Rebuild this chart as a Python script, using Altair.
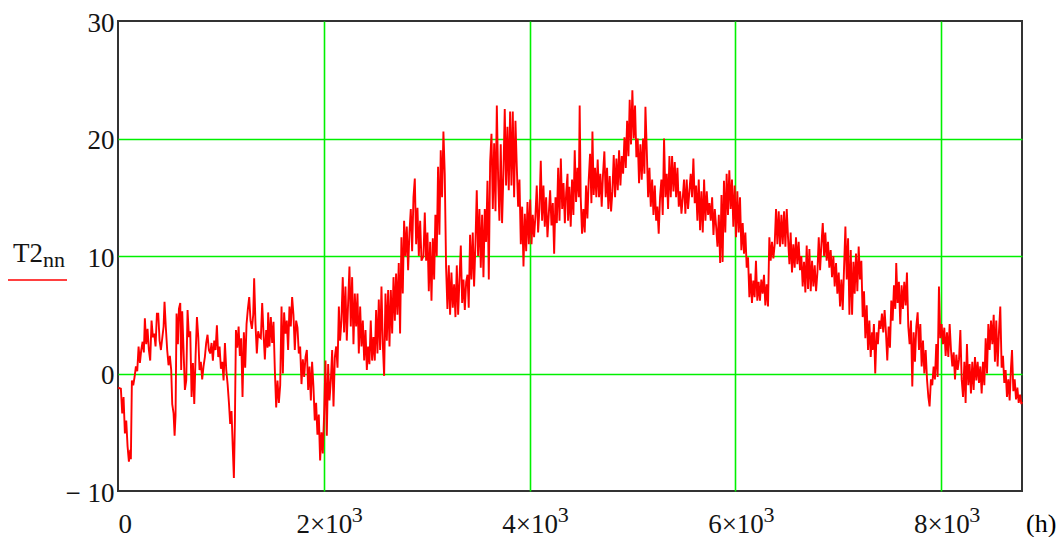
import altair as alt
import pandas as pd

# Hourly T2 values (nn = hour index), split by period
SEG_JAN_MAR = [
    (0, -1.2), (28, -1.3), (41, -3.4), (54, -2.0), (67, -5.1), (80, -4.0), (93, -6.2), (106, -7.5),
    (119, -6.5), (125, -7.3), (135, -0.6), (148, -1.0), (161, -0.3), (174, 0.6), (187, 0.2), (200, 2.3),
    (213, 0.9), (226, 2.0), (239, 2.7), (251, 1.8), (261, 4.7), (274, 2.5), (287, 3.8), (300, 2.0),
    (313, 1.1), (326, 4.5), (339, 3.1), (352, 3.4), (365, 2.3), (378, 5.1), (391, 5.1), (404, 2.8),
    (417, 2.0), (430, 3.0), (443, 4.0), (452, 6.1), (465, 3.9), (478, 2.0), (491, 0.7), (504, 1.5),
    (517, 0.3), (527, -2.6), (540, -3.4), (550, -5.3), (559, -3.6), (569, 5.1), (582, 2.5), (592, 5.5),
    (605, 6.0), (614, 0.3), (624, 5.3), (637, 2.0), (650, -1.4), (663, -0.6), (676, 5.4), (689, 3.1),
    (702, 3.6), (715, -2.0), (728, 0.9), (741, -2.6), (754, 1.5), (767, 4.8), (780, 3.1), (792, 0.3),
    (805, 1.0), (818, -0.5), (831, 0.6), (844, 1.4), (857, 2.6), (870, 3.3), (883, 2.0), (896, 1.7),
    (909, 2.6), (922, 1.1), (935, 2.8), (948, 2.0), (961, 4.1), (974, 1.4), (987, 2.3), (1000, 0.4),
    (1013, 1.0), (1026, -0.6), (1039, 2.6), (1052, 0.3), (1065, -0.9), (1078, -2.5), (1090, -4.3),
    (1103, -3.2), (1116, -6.5), (1126, -8.9), (1136, -4.0), (1146, 3.7), (1159, 2.2), (1172, 4.0),
    (1184, 1.5), (1197, 3.0), (1210, -2.0), (1223, 3.5), (1236, 0.5), (1249, 4.2), (1262, 5.5),
    (1275, 6.5), (1288, 4.5), (1301, 3.8), (1314, 5.0), (1323, 8.1), (1336, 4.2), (1349, 1.7),
    (1362, 3.6), (1375, 3.1), (1388, 3.0), (1401, 6.0), (1414, 3.4), (1427, 1.2), (1440, 3.7),
    (1453, 2.2),
]

SEG_MAR_MAY = [
    (1459, 5.2), (1472, 2.3), (1485, 4.8), (1498, 2.6), (1511, 4.4), (1524, 0.3), (1537, -2.9),
    (1550, -0.6), (1563, -2.5), (1576, -1.0), (1589, 5.7), (1602, 0.0), (1614, 5.2), (1627, 3.4),
    (1640, 4.5), (1653, 2.0), (1666, 5.7), (1679, 4.0), (1692, 6.5), (1705, 5.0), (1718, 2.0),
    (1731, 4.5), (1744, 3.9), (1757, 1.7), (1770, 2.3), (1783, -0.9), (1796, 1.2), (1809, -0.3),
    (1822, 1.4), (1835, 2.0), (1848, -1.4), (1861, 0.6), (1874, -2.3), (1886, 1.0), (1899, -1.1),
    (1912, -4.0), (1925, -2.5), (1938, -5.2), (1951, -3.5), (1964, -7.4), (1977, -5.0), (1990, -6.8),
    (2003, -3.4), (2016, 1.1), (2029, -5.3), (2042, 0.8), (2055, -2.3), (2068, -0.6), (2081, 2.0),
    (2094, -2.8), (2107, 1.4), (2120, 2.3), (2133, 0.5), (2146, 5.7), (2158, 2.8), (2171, 4.5),
    (2184, 8.2), (2197, 3.5), (2210, 7.4), (2223, 2.8), (2236, 6.0), (2249, 9.1), (2262, 4.0),
    (2275, 8.2), (2288, 2.5), (2301, 6.8), (2314, 4.0), (2327, 6.8), (2340, 1.7), (2353, 5.7),
    (2366, 2.3), (2379, 4.5), (2392, 1.1), (2405, 3.7), (2418, 0.3), (2430, 2.3), (2443, 0.8),
    (2456, 4.5), (2469, 1.1), (2482, 3.1), (2495, 1.1), (2508, 5.4), (2521, 1.7), (2534, 6.3),
    (2547, 2.0), (2560, 7.4), (2573, 2.5), (2586, -0.2), (2599, 6.8), (2612, 2.8), (2625, 7.1),
    (2638, 2.3), (2651, 7.1), (2664, 3.4), (2677, 8.2), (2690, 4.5), (2702, 8.5), (2715, 5.0),
    (2728, 9.4), (2741, 3.4), (2754, 11.6), (2767, 6.8), (2780, 13.0), (2793, 10.0), (2806, 12.5),
    (2819, 8.8), (2832, 12.0), (2845, 14.0), (2858, 10.4), (2871, 15.0), (2884, 16.6), (2897, 11.0),
    (2910, 14.1), (2923, 10.0), (2936, 13.0), (2949, 9.6),
]

SEG_MAY_JUL = [
    (2968, 10.0), (2981, 13.7), (2994, 9.6), (3007, 12.0), (3020, 7.0), (3033, 11.2), (3046, 6.2),
    (3059, 11.5), (3072, 8.0), (3084, 13.5), (3097, 10.0), (3110, 17.6), (3123, 11.8), (3136, 19.0),
    (3149, 15.0), (3162, 20.6), (3175, 17.0), (3188, 9.0), (3201, 5.5), (3214, 9.2), (3227, 5.0),
    (3240, 8.6), (3253, 5.6), (3266, 7.6), (3279, 4.8), (3292, 9.2), (3305, 5.0), (3318, 8.0),
    (3331, 10.9), (3344, 6.0), (3357, 8.0), (3370, 5.4), (3383, 7.8), (3396, 8.4), (3408, 5.6),
    (3421, 11.8), (3434, 8.0), (3447, 12.0), (3460, 7.4), (3473, 11.0), (3486, 15.6), (3499, 10.0),
    (3512, 14.0), (3525, 9.0), (3538, 13.5), (3551, 8.2), (3564, 14.0), (3577, 11.2), (3590, 16.4),
    (3603, 8.0), (3616, 18.0), (3629, 20.4), (3642, 14.0), (3655, 19.6), (3668, 13.8), (3681, 22.8),
    (3694, 16.5), (3706, 13.0), (3719, 19.5), (3732, 12.8), (3745, 17.0), (3758, 22.5), (3771, 16.0),
    (3784, 21.0), (3797, 15.6), (3810, 22.3), (3823, 16.0), (3836, 22.3), (3849, 15.0), (3862, 21.5),
    (3875, 17.6), (3888, 14.2), (3901, 16.5), (3914, 11.0), (3927, 14.2), (3940, 9.1), (3953, 13.6),
    (3966, 10.4), (3979, 14.6), (3992, 11.0), (4005, 14.8), (4018, 11.0), (4030, 13.5), (4043, 11.6),
    (4056, 13.4), (4069, 16.0), (4082, 12.0), (4095, 14.0), (4108, 18.1), (4121, 13.0), (4134, 16.0),
    (4147, 12.5), (4160, 15.0), (4173, 11.6), (4186, 13.6), (4199, 15.6), (4212, 12.6), (4225, 14.5),
    (4238, 10.2), (4251, 15.0), (4264, 12.8), (4277, 17.5), (4290, 13.0), (4303, 18.3), (4316, 14.0),
    (4329, 16.2), (4342, 12.8), (4355, 15.4), (4368, 17.0),
]

SEG_JUL_SEP = [
    (4373, 13.0), (4386, 15.9), (4399, 12.5), (4412, 16.5), (4425, 13.5), (4438, 19.0), (4451, 14.6),
    (4464, 17.5), (4477, 15.0), (4486, 22.8), (4496, 15.0), (4509, 11.9), (4522, 14.0), (4535, 12.0),
    (4548, 16.0), (4561, 13.2), (4574, 16.5), (4587, 18.7), (4600, 14.5), (4610, 20.6), (4622, 15.2),
    (4635, 17.5), (4648, 15.0), (4661, 18.2), (4674, 15.0), (4687, 17.0), (4700, 14.2), (4713, 17.0),
    (4726, 18.9), (4739, 15.0), (4752, 17.5), (4765, 14.0), (4778, 16.8), (4791, 13.8), (4804, 15.5),
    (4817, 18.6), (4830, 15.0), (4843, 18.3), (4856, 15.6), (4869, 19.0), (4882, 16.0), (4895, 18.5),
    (4908, 17.0), (4921, 20.1), (4934, 17.5), (4947, 21.5), (4960, 18.5), (4972, 23.3), (4985, 19.5),
    (4998, 24.1), (5011, 20.0), (5024, 22.8), (5037, 18.4), (5050, 20.0), (5063, 16.2), (5076, 19.5),
    (5089, 16.5), (5102, 20.0), (5115, 17.0), (5125, 22.7), (5138, 19.0), (5151, 15.0), (5164, 17.5),
    (5177, 14.2), (5190, 16.5), (5203, 13.5), (5216, 16.0), (5229, 13.0), (5241, 14.2), (5254, 11.9),
    (5267, 15.0), (5280, 16.5), (5293, 13.5), (5306, 20.0), (5319, 15.0), (5332, 17.0), (5345, 14.0),
    (5358, 18.5), (5371, 15.0), (5384, 18.5), (5397, 15.5), (5410, 18.0), (5423, 15.0), (5436, 17.5),
    (5449, 14.2), (5462, 15.5), (5475, 13.6), (5488, 15.0), (5500, 16.5), (5513, 13.6), (5526, 16.5),
    (5539, 14.0), (5552, 15.5), (5565, 17.0), (5578, 15.0), (5591, 18.3), (5604, 14.5), (5617, 16.0),
    (5630, 13.0), (5643, 16.5), (5656, 12.2), (5669, 15.5), (5682, 12.0), (5695, 16.5), (5708, 13.0),
    (5721, 15.5), (5734, 13.5), (5747, 14.5), (5760, 13.0), (5773, 15.0), (5786, 11.8), (5799, 14.0),
    (5812, 12.5), (5825, 10.8), (5838, 13.5), (5851, 9.4), (5864, 15.2),
]

SEG_SEP_NOV = [
    (5875, 9.5), (5888, 16.4), (5901, 12.0), (5914, 17.0), (5927, 13.5), (5940, 17.3), (5953, 14.0),
    (5966, 16.5), (5979, 12.5), (5992, 16.0), (6005, 11.6), (6018, 15.5), (6031, 12.0), (6044, 15.0),
    (6057, 10.5), (6070, 12.8), (6083, 10.2), (6096, 12.0), (6109, 9.0), (6122, 9.9), (6135, 6.5),
    (6148, 8.5), (6160, 6.0), (6173, 7.9), (6186, 6.5), (6199, 9.6), (6212, 6.2), (6225, 7.8),
    (6238, 6.2), (6251, 8.0), (6264, 6.8), (6277, 8.4), (6290, 5.8), (6303, 7.6), (6316, 5.7),
    (6329, 11.6), (6342, 9.6), (6355, 11.2), (6368, 9.8), (6381, 11.0), (6394, 14.0), (6407, 11.0),
    (6420, 13.8), (6433, 10.8), (6446, 13.5), (6459, 11.0), (6472, 13.8), (6485, 10.8), (6498, 14.0),
    (6511, 11.5), (6524, 9.3), (6536, 12.0), (6549, 8.6), (6562, 11.0), (6575, 9.0), (6588, 11.6),
    (6601, 9.3), (6614, 11.2), (6627, 8.8), (6640, 10.0), (6653, 7.4), (6666, 9.5), (6679, 6.9),
    (6692, 10.9), (6705, 7.2), (6718, 10.6), (6731, 7.0), (6744, 9.6), (6757, 7.4), (6770, 9.2),
    (6783, 7.0), (6796, 8.6), (6809, 11.6), (6822, 8.8), (6835, 11.0), (6848, 12.8), (6861, 10.0),
    (6873, 12.0), (6886, 9.6), (6899, 11.2), (6912, 9.0), (6925, 10.5), (6938, 8.2), (6951, 10.0),
    (6964, 7.4), (6977, 9.4), (6990, 6.8), (7003, 8.6), (7016, 5.7), (7029, 8.0), (7042, 5.4),
    (7055, 9.0), (7068, 12.5), (7081, 8.0), (7094, 11.5), (7107, 5.0), (7120, 10.5), (7133, 5.0),
    (7146, 9.5), (7158, 6.8), (7171, 10.2), (7184, 7.0), (7197, 10.8), (7210, 8.0), (7223, 9.6),
    (7236, 4.8), (7249, 7.0), (7262, 3.0), (7275, 5.8), (7288, 2.0), (7301, 4.5), (7314, 1.4),
    (7327, 3.5),
]

SEG_NOV_DEC = [
    (7332, 2.0), (7345, 4.2), (7358, 0.0), (7371, 3.5), (7384, 2.5), (7397, 4.5), (7410, 3.8),
    (7423, 5.1), (7436, 3.5), (7449, 5.4), (7462, 3.5), (7475, 1.1), (7488, 4.0), (7501, 2.2),
    (7514, 6.2), (7527, 4.5), (7540, 7.5), (7553, 5.5), (7562, 9.4), (7575, 6.0), (7588, 7.8),
    (7601, 4.2), (7614, 7.5), (7627, 5.5), (7640, 7.8), (7653, 5.8), (7666, 8.6), (7679, 4.0),
    (7692, 2.5), (7705, 4.5), (7718, -1.1), (7731, 3.5), (7744, 1.0), (7757, 4.0), (7770, 5.2),
    (7783, 2.0), (7796, 4.2), (7809, 0.6), (7822, 2.8), (7835, 0.0), (7848, 2.0), (7861, -0.5),
    (7874, -2.0), (7886, -2.8), (7899, -0.5), (7912, -1.0), (7925, 0.6), (7938, -0.5), (7951, 2.5),
    (7964, -0.3), (7977, 7.4), (7990, 3.0), (8003, 4.2), (8016, 2.5), (8029, 3.9), (8042, 1.5),
    (8055, 3.5), (8068, 1.4), (8081, 4.2), (8094, 2.0), (8107, 0.6), (8120, 1.8), (8133, -0.5),
    (8146, 1.6), (8159, 0.3), (8172, 1.2), (8185, 3.7), (8198, -0.5), (8211, -2.0), (8224, 1.0),
    (8236, -2.5), (8249, 2.5), (8262, -1.0), (8275, 0.8), (8288, -1.7), (8301, 1.0), (8314, -1.4),
    (8327, 1.4), (8340, -0.6), (8353, 1.0), (8366, -0.8), (8379, 0.6), (8392, -1.7), (8405, 1.0),
    (8418, -1.0), (8431, 3.0), (8444, 0.0), (8457, 4.2), (8470, 2.0), (8483, 4.5), (8496, 2.5),
    (8509, 5.0), (8521, 1.0), (8534, 4.5), (8547, 0.6), (8560, 3.5), (8573, 5.7), (8586, 0.5),
    (8599, 1.5), (8612, -0.8), (8625, 0.3), (8638, -2.0), (8651, -0.5), (8664, -2.3), (8677, 0.5),
    (8687, 2.0), (8700, -1.5), (8713, -0.5), (8726, -2.2), (8739, -1.2), (8752, -2.5), (8765, -1.8),
    (8778, -2.6), (8783, -2.4),
]

X_TICKS = [0, 2000, 4000, 6000, 8000]
Y_TICKS = [-10, 0, 10, 20, 30]
SUP_TICKS = [2000, 4000, 6000, 8000]

FONT = "Liberation Serif"
TXT = "#141414"
GRID = "#00f000"

rows = SEG_JAN_MAR + SEG_MAR_MAY + SEG_MAY_JUL + SEG_JUL_SEP + SEG_SEP_NOV + SEG_NOV_DEC
df = pd.DataFrame(rows, columns=["nn", "T2"])

x_axis = alt.Axis(
    values=X_TICKS,
    labelExpr="datum.value == 0 ? '0' : format(datum.value / 1000, 'd') + '×10'",
    title=None, domain=False, ticks=False, tickSize=0,
    labelPadding=33, labelBaseline="middle", labelFlush=True,
    labelFont=FONT, labelFontSize=27, labelColor=TXT,
    grid=True, gridColor=GRID, gridWidth=1.6,
    gridOpacity={"condition": {"test": "datum.value == 0", "value": 0}, "value": 1},
)
y_axis = alt.Axis(
    values=Y_TICKS,
    labelExpr="datum.value == -10 ? '− 10' : datum.label",
    title=None, domain=False, ticks=False, tickSize=0,
    labelPadding=4, labelFlush=False, labelBaseline="middle", labelOffset=2,
    labelFont=FONT, labelFontSize=27, labelColor=TXT,
    grid=True, gridColor=GRID, gridWidth=1.6,
    gridOpacity={"condition": {"test": "datum.value == -10 || datum.value == 30", "value": 0}, "value": 1},
)

line = alt.Chart(df).mark_line(color="#ff0000", strokeWidth=1.9).encode(
    x=alt.X("nn:Q", scale=alt.Scale(domain=[0, 8784], nice=False, zero=False), axis=x_axis),
    y=alt.Y("T2:Q", scale=alt.Scale(domain=[-10, 30], nice=False, zero=False), axis=y_axis),
)

sup = alt.Chart(pd.DataFrame({"nn": SUP_TICKS})).mark_text(
    align="left", baseline="alphabetic", dx=28, font=FONT, fontSize=22, color=TXT
).encode(x=alt.X("nn:Q"), y=alt.value(501), text=alt.value("3"))

lab = pd.DataFrame({"k": [0]})
t2 = alt.Chart(lab).mark_text(
    align="left", baseline="alphabetic", font=FONT, fontSize=27, color=TXT
).encode(x=alt.value(-105), y=alt.value(241), text=alt.value("T2"))
sub = alt.Chart(lab).mark_text(
    align="left", baseline="alphabetic", font=FONT, fontSize=22, color=TXT
).encode(x=alt.value(-75), y=alt.value(246), text=alt.value("nn"))
underline = alt.Chart(lab).mark_rule(color="#ff0000", strokeWidth=1.6).encode(
    x=alt.value(-110.5), x2=alt.value(-51), y=alt.value(259)
)
tag = alt.Chart(lab).mark_text(
    align="left", baseline="alphabetic", font=FONT, fontSize=26, color="#000"
).encode(x=alt.value(908), y=alt.value(511), text=alt.value("(h)"))

chart = alt.layer(line, sup, t2, sub, underline, tag).properties(
    width=904, height=470,
    autosize=alt.AutoSizeParams(type="none"),
    padding={"left": 110, "top": 13, "right": 34, "bottom": 46},
    background="white",
).configure_view(stroke="#333333", strokeWidth=2)

chart.save("out.html", embed_options={"renderer": "svg", "actions": False})
